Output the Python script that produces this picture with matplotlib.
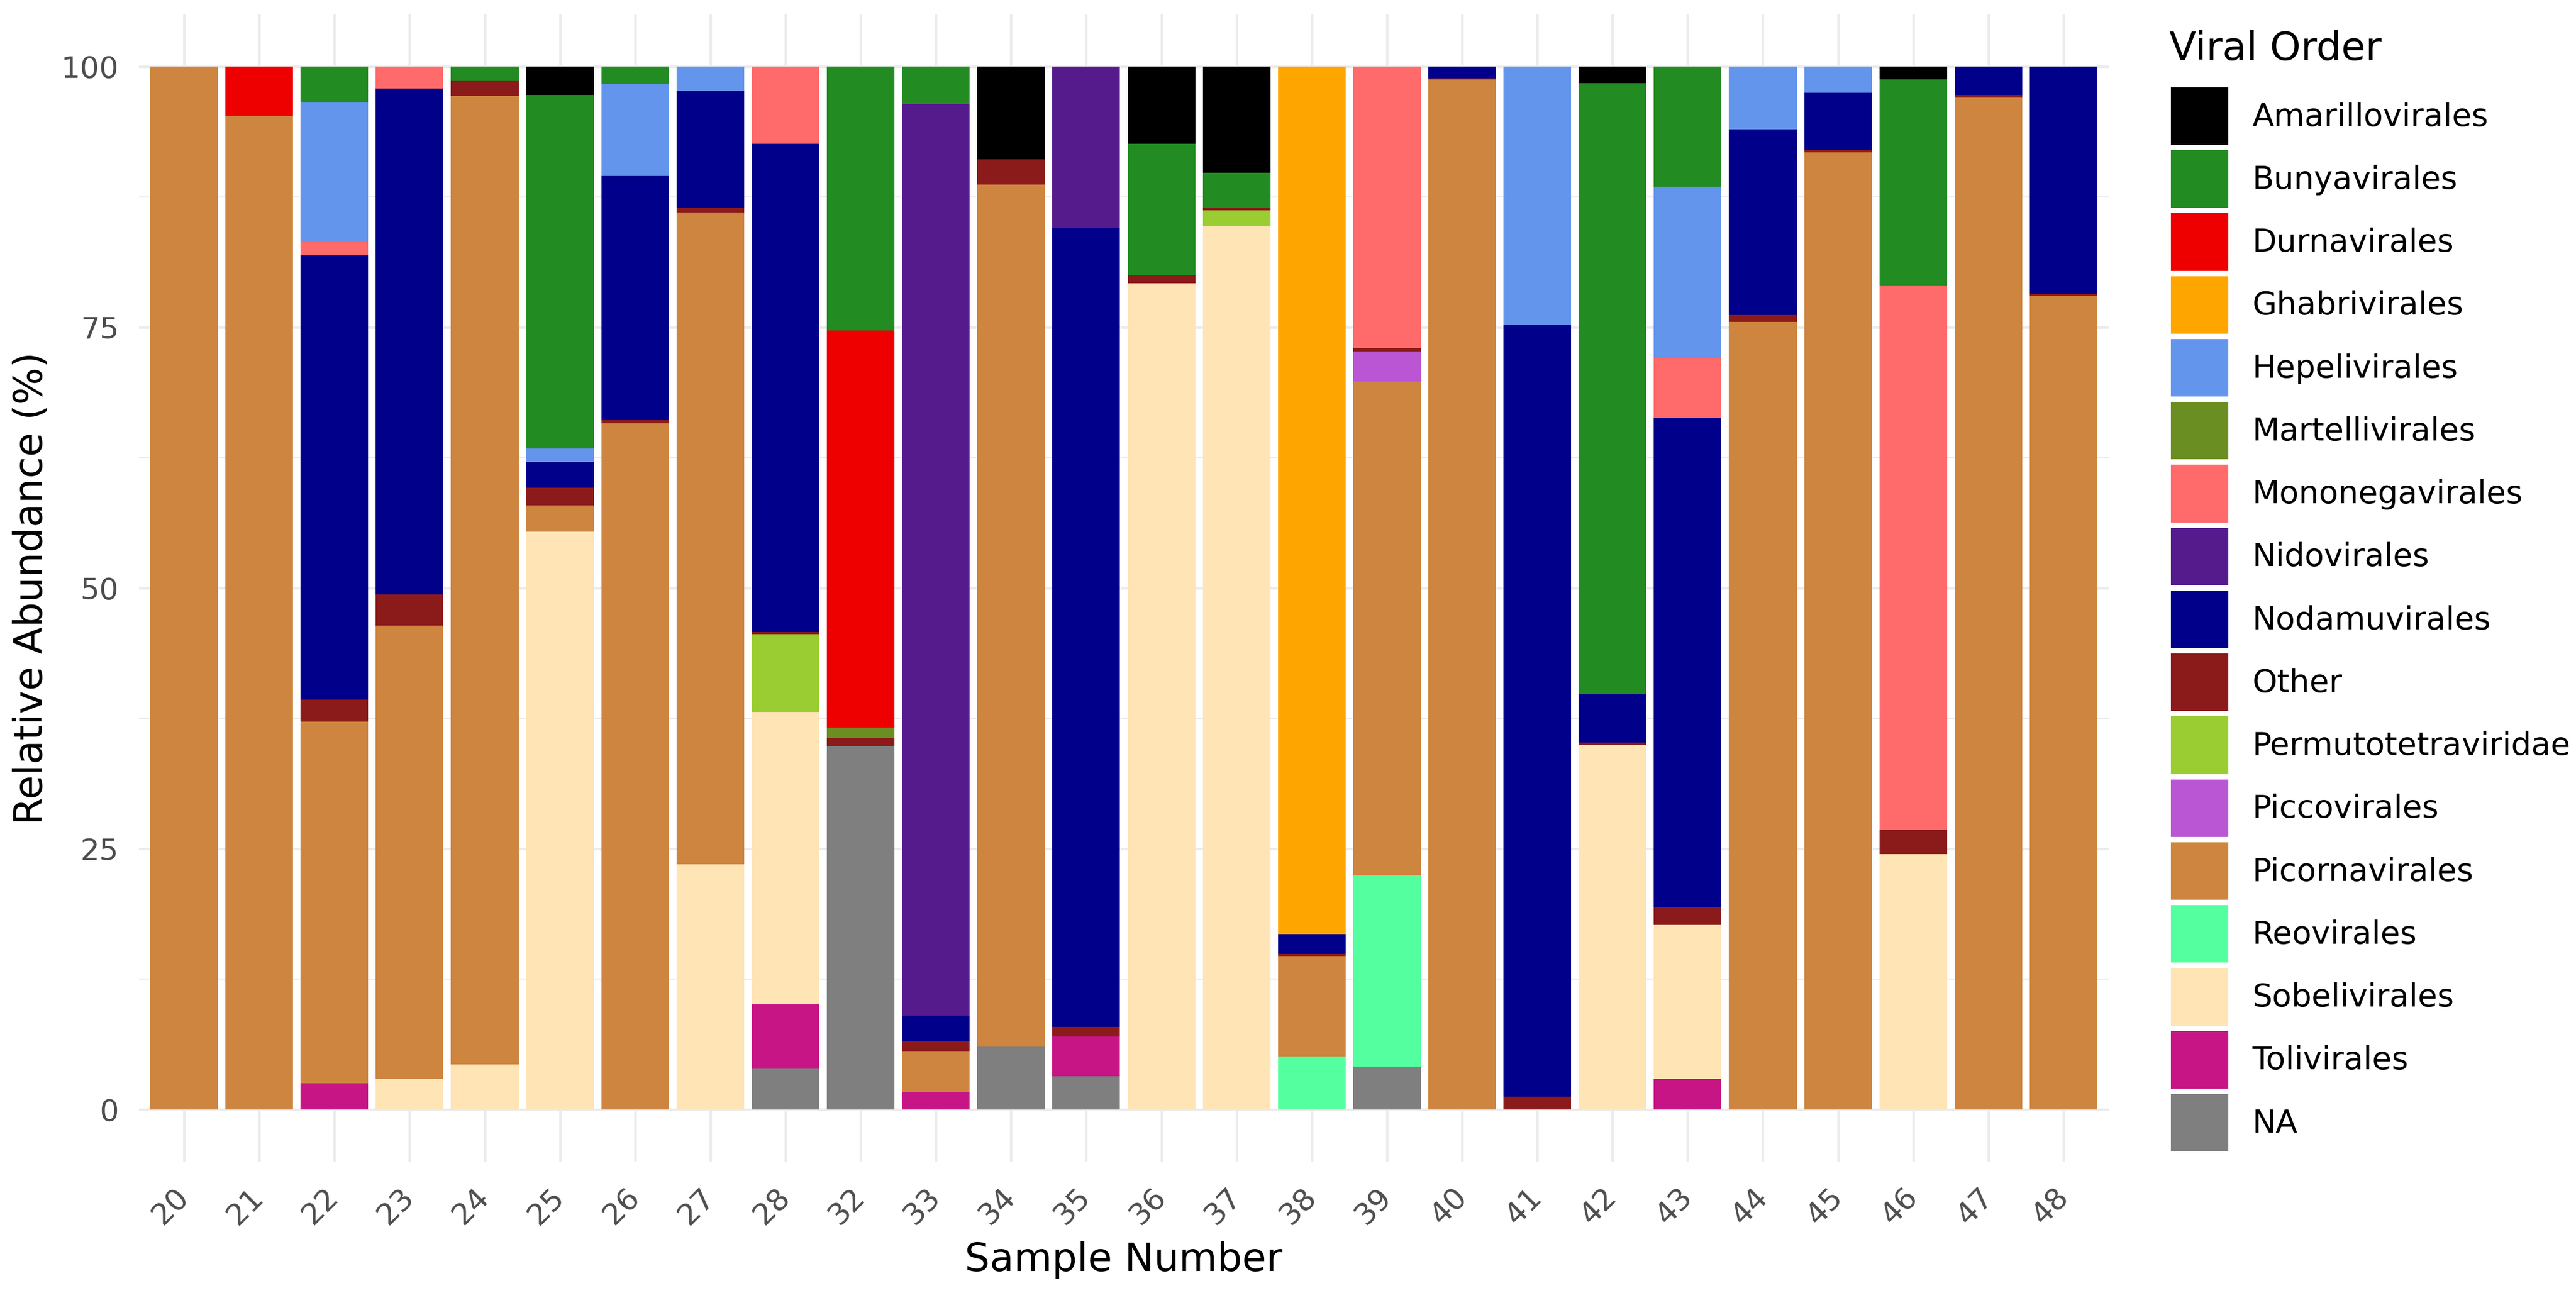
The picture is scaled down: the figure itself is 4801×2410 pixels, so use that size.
import numpy as np
import matplotlib
matplotlib.use("Agg")
import matplotlib.pyplot as plt
from matplotlib.patches import Patch

samples = ["20", "21", "22", "23", "24", "25", "26", "27", "28", "32", "33", "34", "35",
           "36", "37", "38", "39", "40", "41", "42", "43", "44", "45", "46", "47", "48"]

# relative abundance (%) per viral order, one value per sample
#                   20    21    22    23    24    25    26    27    28    32    33    34    35    36    37    38    39    40    41    42    43    44    45    46    47    48
na_vals        = [0,    0,    0,    0,    0,    0,    0,    0,    3.9,  34.8, 0,    6.0,  3.2,  0,    0,    0,    4.1,  0,    0,    0,    0,    0,    0,    0,    0,    0]
tolivirales    = [0,    0,    2.5,  0,    0,    0,    0,    0,    6.2,  0,    1.7,  0,    3.8,  0,    0,    0,    0,    0,    0,    0,    2.9,  0,    0,    0,    0,    0]
sobelivirales  = [0,    0,    0,    2.9,  4.3,  55.4, 0,    23.5, 28.0, 0,    0,    0,    0,    79.2, 84.7, 0,    0,    0,    0,    35.0, 14.8, 0,    0,    24.5, 0,    0]
reovirales     = [0,    0,    0,    0,    0,    0,    0,    0,    0,    0,    0,    0,    0,    0,    0,    5.1,  18.4, 0,    0,    0,    0,    0,    0,    0,    0,    0]
picornavirales = [100,  95.3, 34.7, 43.5, 92.9, 2.5,  65.8, 62.5, 0,    0,    3.9,  82.7, 0,    0,    0,    9.6,  47.3, 98.8, 0,    0,    0,    75.5, 91.8, 0,    97.0, 78.0]
piccovirales   = [0,    0,    0,    0,    0,    0,    0,    0,    0,    0,    0,    0,    0,    0,    0,    0,    2.9,  0,    0,    0,    0,    0,    0,    0,    0,    0]
permutotetra   = [0,    0,    0,    0,    0,    0,    0,    0,    7.5,  0,    0,    0,    0,    0,    1.5,  0,    0,    0,    0,    0,    0,    0,    0,    0,    0,    0]
other          = [0,    0,    2.1,  3.0,  1.4,  1.7,  0.3,  0.5,  0.2,  0.8,  1.0,  2.4,  0.9,  0.8,  0.3,  0.2,  0.3,  0.1,  1.2,  0.2,  1.7,  0.7,  0.2,  2.3,  0.3,  0.2]
nodamuvirales  = [0,    0,    42.6, 48.5, 0,    2.5,  23.4, 11.2, 46.8, 0,    2.4,  0,    76.6, 0,    0,    1.9,  0,    1.1,  74.0, 4.6,  46.9, 17.8, 5.5,  0,    2.7,  21.8]
nidovirales    = [0,    0,    0,    0,    0,    0,    0,    0,    0,    0,    87.4, 0,    15.5, 0,    0,    0,    0,    0,    0,    0,    0,    0,    0,    0,    0,    0]
mononegavirales= [0,    0,    1.3,  2.1,  0,    0,    0,    0,    7.4,  0,    0,    0,    0,    0,    0,    0,    27.0, 0,    0,    0,    5.7,  0,    0,    52.2, 0,    0]
martellivirales= [0,    0,    0,    0,    0,    0,    0,    0,    0,    1.0,  0,    0,    0,    0,    0,    0,    0,    0,    0,    0,    0,    0,    0,    0,    0,    0]
hepelivirales  = [0,    0,    13.4, 0,    0,    1.3,  8.8,  2.3,  0,    0,    0,    0,    0,    0,    0,    0,    0,    0,    24.8, 0,    16.5, 6.0,  2.5,  0,    0,    0]
ghabrivirales  = [0,    0,    0,    0,    0,    0,    0,    0,    0,    0,    0,    0,    0,    0,    0,    83.2, 0,    0,    0,    0,    0,    0,    0,    0,    0,    0]
durnavirales   = [0,    4.7,  0,    0,    0,    0,    0,    0,    0,    38.1, 0,    0,    0,    0,    0,    0,    0,    0,    0,    0,    0,    0,    0,    0,    0,    0]
bunyavirales   = [0,    0,    3.4,  0,    1.4,  33.9, 1.7,  0,    0,    25.3, 3.6,  0,    0,    12.6, 3.3,  0,    0,    0,    0,    58.6, 11.5, 0,    0,    19.8, 0,    0]
amarillovirales= [0,    0,    0,    0,    0,    2.7,  0,    0,    0,    0,    0,    8.9,  0,    7.4,  10.2, 0,    0,    0,    0,    1.6,  0,    0,    0,    1.2,  0,    0]

# stacked bottom -> top
orders = ["NA", "Tolivirales", "Sobelivirales", "Reovirales", "Picornavirales", "Piccovirales",
          "Permutotetraviridae", "Other", "Nodamuvirales", "Nidovirales", "Mononegavirales",
          "Martellivirales", "Hepelivirales", "Ghabrivirales", "Durnavirales", "Bunyavirales",
          "Amarillovirales"]
values = [na_vals, tolivirales, sobelivirales, reovirales, picornavirales, piccovirales,
          permutotetra, other, nodamuvirales, nidovirales, mononegavirales, martellivirales,
          hepelivirales, ghabrivirales, durnavirales, bunyavirales, amarillovirales]
colors = ["#7F7F7F", "#C71585", "#FFE4B5", "#54FF9F", "#CD853F", "#BA55D3",
          "#9ACD32", "#8B1A1A", "#00008B", "#551A8B", "#FF6A6A",
          "#6B8E23", "#6495ED", "#FFA500", "#EE0000", "#228B22",
          "#000000"]

plt.rcParams['font.family'] = ['DejaVu Sans']

fig = plt.figure(figsize=(4801 / 300, 2410 / 300), dpi=300)
ax = fig.add_axes([259 / 4801, 1 - 2165 / 2410, 3671 / 4801, 2138 / 2410])

x = np.arange(len(samples))
bottom = np.zeros(len(samples))
for name, vals, col in zip(orders, values, colors):
    vals = np.array(vals, dtype=float)
    ax.bar(x, vals, width=0.9, bottom=bottom, color=col, edgecolor="none",
           label=name, zorder=2)
    bottom += vals

ax.set_xlim(-0.6, len(samples) - 0.4)
ax.set_ylim(-5, 105)
ax.set_xticks(x)
ax.set_xticklabels(samples, rotation=45, ha="right", va="center",
                   rotation_mode="anchor")
ax.set_yticks([0, 25, 50, 75, 100])
ax.set_yticks([12.5, 37.5, 62.5, 87.5], minor=True)
ax.tick_params(axis="both", which="both", length=0, labelsize=13.5,
               labelcolor="#4D4D4D")
ax.tick_params(axis="y", pad=9)
ax.tick_params(axis="x", pad=14)

ax.grid(True, which="major", color="#EBEBEB", linewidth=1.1, zorder=0)
ax.grid(True, which="minor", axis="y", color="#EBEBEB", linewidth=0.55, zorder=0)
for s in ax.spines.values():
    s.set_visible(False)
ax.set_axisbelow(True)

ax.set_xlabel("Sample Number", fontsize=17.6)
ax.set_ylabel("Relative Abundance (%)", fontsize=17.6)
ax.xaxis.set_label_coords(0.5, -0.069)
ax.yaxis.set_label_coords(-0.045, 0.5)

# legend: title as separate text, keys below it
fig.text(4043 / 4801, 1 - 112 / 2410, "Viral Order", fontsize=17.6,
         ha="left", va="baseline")
handles = [Patch(facecolor=c, edgecolor="none") for c in colors][::-1]
leg = fig.legend(handles, orders[::-1], loc="upper left",
                 bbox_to_anchor=(4046 / 4801, 1 - 163 / 2410),
                 frameon=False, fontsize=14.2,
                 handlelength=1.81, handleheight=2.41, labelspacing=0.17,
                 handletextpad=0.75, borderpad=0, borderaxespad=0)

fig.savefig("out.png", dpi=300, facecolor="white")
